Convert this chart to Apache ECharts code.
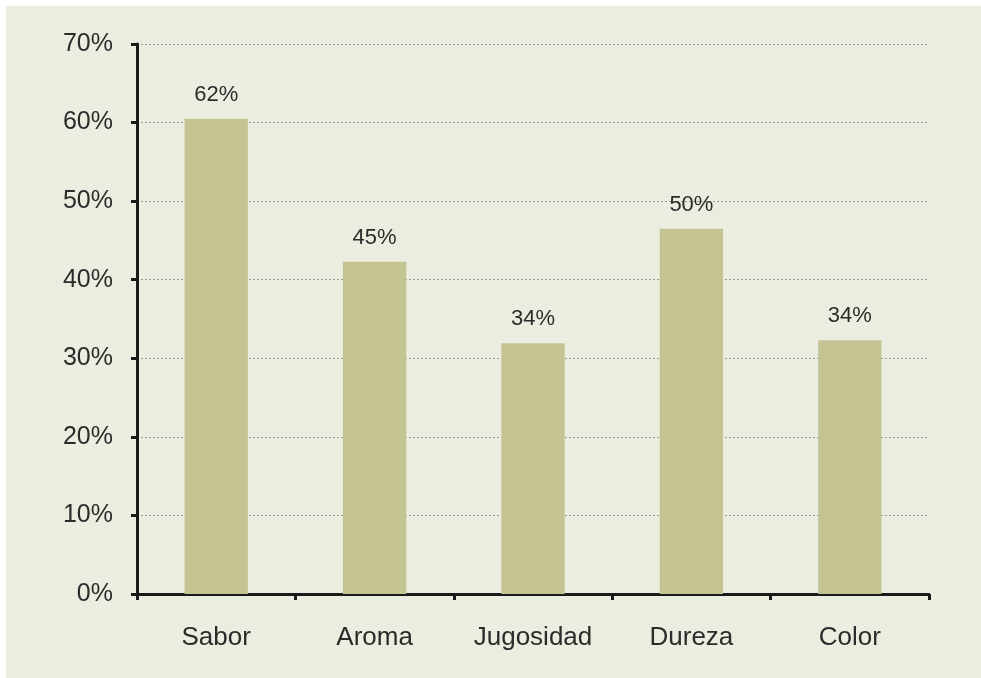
<html>
<head>
    <meta charset="utf-8" />
    <title>ECharts</title>
    <script src="https://cdn.jsdelivr.net/npm/echarts@6/dist/echarts.min.js"></script>
    <style>
        html, body { margin: 0; padding: 0; background: #ffffff; overflow: hidden; width: 100%; height: 100%; }
        #barChart {
            position: absolute;
            left: 6px;
            top: 6px;
            right: 0;
            bottom: 0;
            background-color: #ecede1;
        }
    </style>
</head>
<body>
<div id="barChart"></div>
<script>
    const categories = ['Sabor', 'Aroma', 'Jugosidad', 'Dureza', 'Color'];
    // bar heights as drawn (percent)
    const barValues = [60.5, 42.3, 31.9, 46.5, 32.3];
    // labels printed above the bars
    const barLabels = ['62%', '45%', '34%', '50%', '34%'];

    let chart = echarts.init(document.getElementById('barChart'));
    const textColor = '#2b2b2b';
    const font = 'Liberation Sans, Arial, sans-serif';

    chart.setOption({
        animation: false,
        grid: {
            left: 131,
            right: 52,
            top: 38,
            bottom: 84,
            containLabel: false
        },
        xAxis: {
            type: 'category',
            data: categories,
            axisLine: { lineStyle: { color: '#1a1a1a', width: 3 } },
            axisTick: { show: true, length: 6, lineStyle: { color: '#1a1a1a', width: 3 } },
            axisLabel: {
                color: textColor,
                fontSize: 26,
                fontFamily: font,
                margin: 31
            }
        },
        yAxis: {
            type: 'value',
            min: 0,
            max: 70,
            interval: 10,
            axisLine: { show: true, lineStyle: { color: '#1a1a1a', width: 3 } },
            axisTick: { show: true, length: 6, lineStyle: { color: '#1a1a1a', width: 3 } },
            axisLabel: {
                color: textColor,
                fontSize: 25,
                fontFamily: font,
                margin: 24,
                formatter: '{value}%'
            },
            splitLine: {
                show: true,
                lineStyle: { color: '#9a9a92', type: [2, 2], width: 1 }
            }
        },
        series: [{
            type: 'bar',
            data: barValues,
            barWidth: '40%',
            itemStyle: { color: '#c4c493' },
            label: {
                show: true,
                position: 'top',
                distance: 13,
                color: textColor,
                fontSize: 22,
                fontFamily: font,
                formatter: function (p) { return barLabels[p.dataIndex]; }
            }
        }]
    });
</script>
</body>
</html>
